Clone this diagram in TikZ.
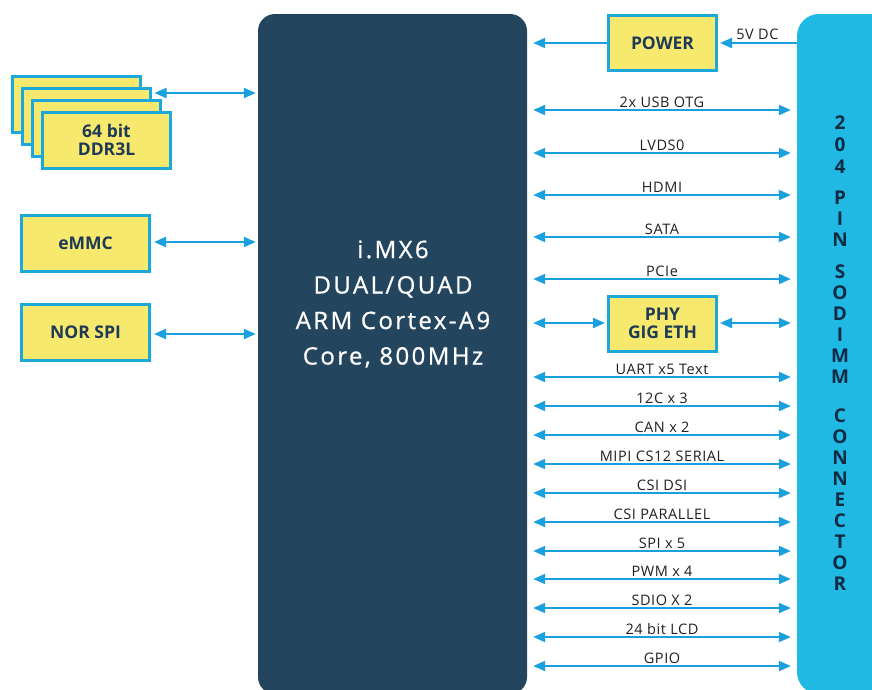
\documentclass[tikz,border=0pt]{standalone}
\usepackage{fontspec}
\setmainfont{Open Sans}
\newfontfamily\lblfont[LetterSpace=4]{Open Sans}
\newfontfamily\cpufont[LetterSpace=10,FakeBold=0.8]{Open Sans}
\usetikzlibrary{arrows.meta}
\definecolor{cpucol}{HTML}{24455E}
\definecolor{conncol}{HTML}{1FB9E4}
\definecolor{yelcol}{HTML}{F7E96E}
\definecolor{bordcol}{HTML}{1CA8DA}
\definecolor{arrcol}{HTML}{1A9FDF}
\definecolor{boxtxt}{HTML}{1E3A56}
\definecolor{lbltxt}{HTML}{231F20}
\definecolor{conntxt}{HTML}{0F2A43}
\tikzset{
  ybox/.style={draw=bordcol, fill=yelcol, line width=3pt, minimum width=128pt, minimum height=56pt, inner sep=0pt,
    font=\fontsize{17.5}{20}\selectfont\bfseries, text=boxtxt, align=center},
  sbox/.style={ybox, minimum width=108pt, minimum height=55pt},
  tip/.tip={Triangle[length=12pt,width=10pt]},
  bus/.style={draw=arrcol, line width=2pt, tip-tip},
  oneway/.style={draw=arrcol, line width=2pt, -tip},
  lbl/.style={above, inner sep=1.5pt, font=\lblfont\fontsize{14.5}{16}\selectfont, text=lbltxt},
  cletter/.style={font=\fontsize{19}{20}\selectfont\bfseries, text=conntxt, inner sep=0pt}
}
\begin{document}
\begin{tikzpicture}[x=1pt,y=-1pt]
\useasboundingbox (0,0) rectangle (872,689);
\clip (0,0) rectangle (872,689);
% main blocks
\node[fill=cpucol, rounded corners=17pt, minimum width=269pt, minimum height=680pt, inner sep=0pt] (cpu) at (392.5,354) {};
\node[font=\cpufont\fontsize{24}{35.5}\selectfont, text=white, align=center] (cputext) at (393,304)
  {i.MX6\\DUAL/QUAD\\ARM Cortex-A9\\Core, 800MHz};
\node[fill=conncol, rounded corners=22pt, minimum width=110pt, minimum height=680pt, inner sep=0pt] (conn) at (852,354) {};
\foreach \ch/\yy [count=\i] in {2/123,0/145,4/167,P/198,I/219,N/240,S/272,O/293,D/314,I/335,M/356,M/377,C/416,O/437,N/458,N/479,E/500,C/521,T/542,O/563,R/584}
  \node[cletter] (cl\i) at (840,\yy) {\ch};
% left memory boxes
\node[ybox] (ddr1) at (76,104) {};
\node[ybox] (ddr2) at (86,116) {};
\node[ybox] (ddr3) at (96,128) {};
\node[ybox] (ddr4) at (106.5,140) {64 bit\\[-2pt]DDR3L};
\node[ybox] (emmc) at (85.5,243.5) {eMMC};
\node[ybox] (nor) at (85.5,332.5) {NOR SPI};
\draw[bus, shorten <=3pt, shorten >=2pt] (ddr2.east |- 0,93) -- (cpu.west |- 0,93);
\draw[bus, shorten <=3pt, shorten >=2pt] (emmc.east |- 0,242) -- (cpu.west |- 0,242);
\draw[bus, shorten <=3pt, shorten >=2pt] (nor.east |- 0,334) -- (cpu.west |- 0,334);
% power
\node[sbox] (power) at (662.5,43) {POWER};
\draw[oneway, shorten >=6pt] (power.west) -- (cpu.east |- power.west);
\draw[oneway, shorten >=2pt] (conn.west |- power.east) -- node[lbl, inner sep=2pt] {5V DC} (power.east);
% PHY
\node[sbox] (phy) at (662.5,323.5) {PHY\\[-2pt]GIG ETH};
\draw[bus, shorten <=6pt, shorten >=2pt] (cpu.east |- 0,323) -- (phy.west |- 0,323);
\draw[bus, shorten <=2pt, shorten >=6pt] (phy.east |- 0,323) -- (conn.west |- 0,323);
% buses
\foreach \yy/\txt in {110/2x USB OTG,153/LVDS0,195/HDMI,237/SATA,279/PCIe,377/UART x5 Text,406/12C x 3,435/CAN x 2,464/MIPI CS12 SERIAL,493/CSI DSI,522/CSI PARALLEL,551/SPI x 5,579/PWM x 4,608/SDIO X 2,637/24 bit LCD,666/GPIO}
  \draw[bus, shorten <=6pt, shorten >=6pt] (cpu.east |- 0,\yy) -- node[lbl] {\txt} (conn.west |- 0,\yy);
\end{tikzpicture}
\end{document}
